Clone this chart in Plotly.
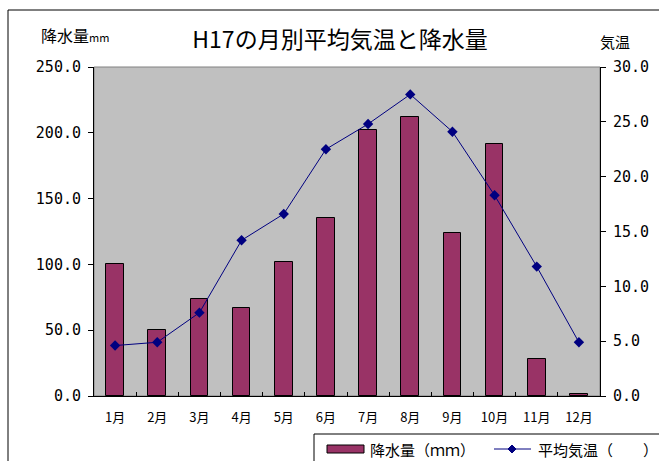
import plotly.graph_objects as go

months = ["1月", "2月", "3月", "4月", "5月", "6月", "7月", "8月", "9月", "10月", "11月", "12月"]
precip = [100, 50, 74, 67, 102, 135.5, 202, 212, 124, 191.5, 28, 1.5]
temp = [4.6, 4.9, 7.6, 14.2, 16.6, 22.5, 24.8, 27.5, 24.1, 18.3, 11.8, 4.9]
left_ticks = [0, 50, 100, 150, 200, 250]
right_ticks = [0, 5, 10, 15, 20, 25, 30]
bar_name = "降水量（ｍｍ）"
line_name = "平均気温（　　）"

JP = "Noto Sans CJK JP"
NUM = "DejaVu Sans Mono"
BAR_COLOR = "#993366"
LINE_COLOR = "#000080"

W, H = 659, 461
L, R, T, B = 94, 59, 67, 65
PW, PH = W - L - R, H - T - B


def px(x):
    return (x - L) / PW


def py(y):
    return (H - B - y) / PH


fig = go.Figure()
fig.add_trace(go.Bar(
    x=months, y=precip, name=bar_name,
    marker=dict(color=BAR_COLOR, line=dict(color="black", width=1)),
    width=0.42, yaxis="y",
))
fig.add_trace(go.Scatter(
    x=months, y=temp, name=line_name, mode="lines+markers",
    line=dict(color=LINE_COLOR, width=1),
    marker=dict(symbol="diamond", size=8, color=LINE_COLOR),
    yaxis="y2",
))

fig.update_layout(
    width=W, height=H,
    margin=dict(l=L, r=R, t=T, b=B, autoexpand=False),
    paper_bgcolor="white", plot_bgcolor="#C0C0C0",
    font=dict(family=JP, color="black", size=13),
    title=dict(text="H17の月別平均気温と降水量", x=340/W, xanchor="center",
               y=1-40/H, yanchor="middle", font=dict(family=JP, size=23)),
    showlegend=False,
    xaxis=dict(range=[-0.5, 11.5], showgrid=False, showline=True, linecolor="black", linewidth=1,
               ticks="inside", ticklen=4, tickcolor="black", tickson="boundaries",
               tickfont=dict(family=JP, size=13), ticklabelstandoff=9, automargin=False),
    yaxis=dict(range=[0, 250], tickvals=left_ticks, ticktext=[f"{v:.1f}" for v in left_ticks],
               showgrid=False, showline=True, linecolor="black", ticks="outside", ticklen=5,
               tickcolor="black", tickfont=dict(family=NUM, size=15), zeroline=False,
               ticklabelstandoff=4, automargin=False),
    yaxis2=dict(range=[0, 30], tickvals=right_ticks, ticktext=[f"{v:.1f}" for v in right_ticks],
                overlaying="y", side="right", showgrid=False, showline=True, linecolor="black",
                ticks="outside", ticklen=5, tickcolor="black",
                tickfont=dict(family=NUM, size=15), zeroline=False,
                ticklabelstandoff=4, automargin=False),
    bargap=0,
)

# plot area border and outer chart frame
fig.add_shape(type="rect", xref="paper", yref="paper", x0=0, x1=1, y0=0, y1=1,
              line=dict(color="#808080", width=1), layer="below")
fig.add_shape(type="rect", xref="paper", yref="paper",
              x0=px(8), x1=px(720), y0=py(520), y1=py(10),
              line=dict(color="black", width=1))

# axis titles
fig.add_annotation(text="降水量<span style='font-size:11px'>mm</span>", xref="paper", yref="paper",
                   x=px(39), y=py(35), xanchor="left", yanchor="middle",
                   showarrow=False, font=dict(family=JP, size=16))
fig.add_annotation(text="気温", xref="paper", yref="paper",
                   x=px(598), y=py(42), xanchor="left", yanchor="middle",
                   showarrow=False, font=dict(family=JP, size=15))

# legend box (extends past the right/bottom edge as in the reference)
fig.add_shape(type="rect", xref="paper", yref="paper",
              x0=px(314), x1=px(720), y0=py(510), y1=py(434),
              line=dict(color="black", width=1), fillcolor="white")
fig.add_shape(type="rect", xref="paper", yref="paper",
              x0=px(327), x1=px(364), y0=py(453), y1=py(445),
              line=dict(color="black", width=1), fillcolor=BAR_COLOR)
fig.add_annotation(text=bar_name, xref="paper", yref="paper", x=px(368), y=py(449),
                   xanchor="left", yanchor="middle", showarrow=False,
                   font=dict(family=JP, size=15))
fig.add_shape(type="line", xref="paper", yref="paper",
              x0=px(494), x1=px(531), y0=py(449), y1=py(449),
              line=dict(color=LINE_COLOR, width=1))
fig.add_shape(type="path", xref="paper", yref="paper",
              path=f"M {px(512)},{py(445)} L {px(516)},{py(449)} L {px(512)},{py(453)} L {px(508)},{py(449)} Z",
              line=dict(color=LINE_COLOR, width=1), fillcolor=LINE_COLOR)
fig.add_annotation(text=line_name, xref="paper", yref="paper", x=px(536), y=py(449),
                   xanchor="left", yanchor="middle", showarrow=False,
                   font=dict(family=JP, size=15))

fig.write_html("out.html", config={"displayModeBar": False},
               post_script="document.body.style.margin='0';document.body.style.overflow='hidden';")
